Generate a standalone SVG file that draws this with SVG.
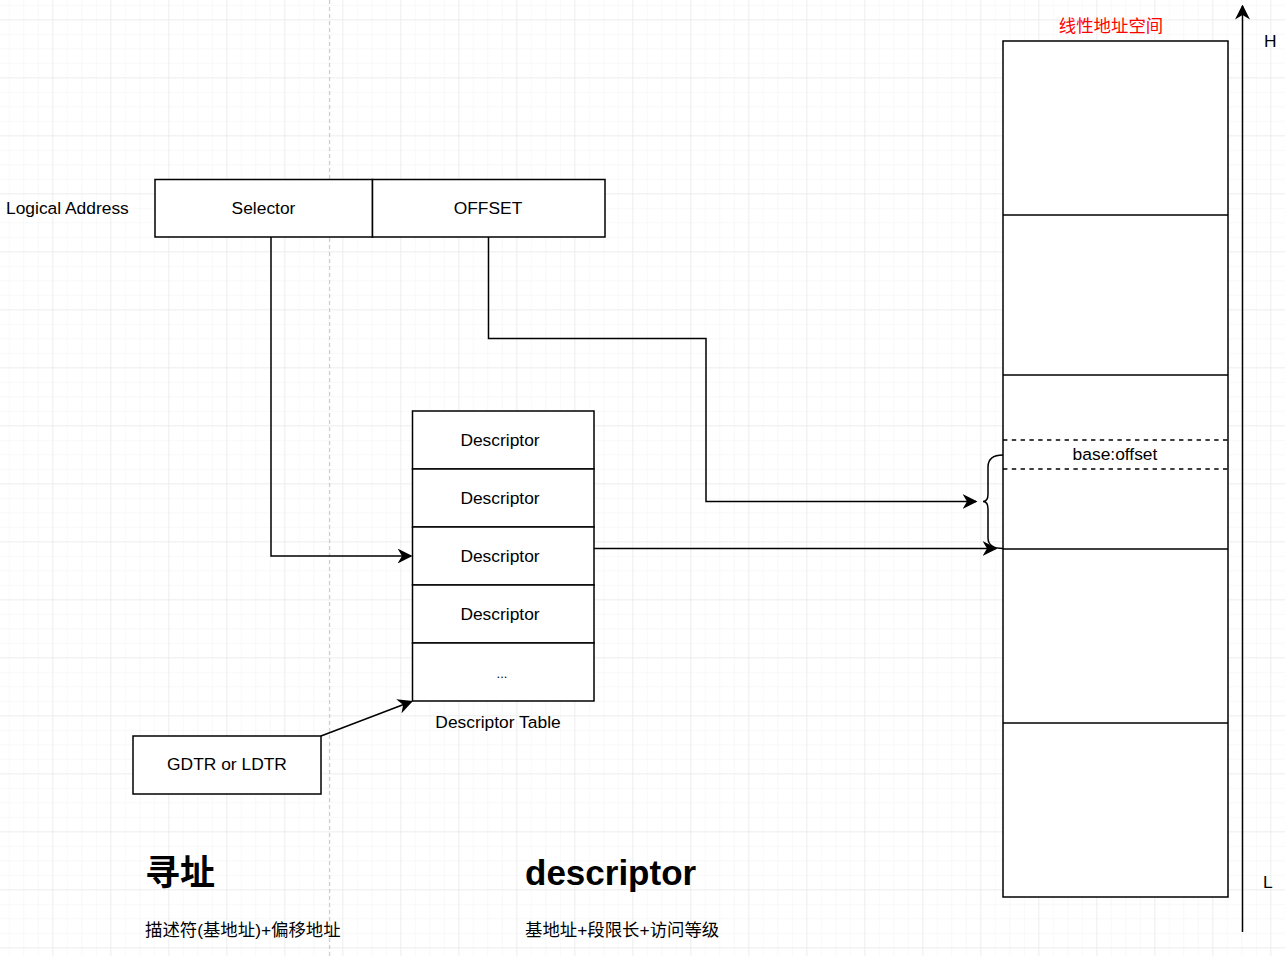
<svg xmlns="http://www.w3.org/2000/svg" width="1285" height="956" viewBox="0 0 1285 956">
  <defs>
    <pattern id="minor" patternUnits="userSpaceOnUse" x="52.3" y="19.3" width="14.5" height="14.5">
      <path d="M0,0 H14.5 M0,0 V14.5" fill="none" stroke="#f1f2f2" stroke-width="1"/>
    </pattern>
    <pattern id="major" patternUnits="userSpaceOnUse" x="52.3" y="19.3" width="58" height="58">
      <path d="M0,0 H58 M0,0 V58" fill="none" stroke="#e3e5e5" stroke-width="1"/>
    </pattern>
    <marker id="arrow" viewBox="0 0 10 10" refX="9" refY="5" markerWidth="15" markerHeight="15" markerUnits="userSpaceOnUse" orient="auto">
      <path d="M0,0 L10,5 L0,10 L3,5 Z" fill="#000"/>
    </marker>
  </defs>
  <style>
    .box { fill: #fff; stroke: #000; stroke-width: 1.5; }
    .lbl { font-family: "Liberation Sans", Arial, sans-serif; font-size: 17.4px; fill: #000; }
    .mid { text-anchor: middle; }
    .cjk { font-family: "Liberation Sans", "Noto Sans CJK SC", sans-serif; font-size: 17.4px; fill: #000; }
    .head { font-family: "Liberation Sans", "Noto Sans CJK SC", sans-serif; font-size: 35px; font-weight: bold; fill: #000; }
    .wire { fill: none; stroke: #000; stroke-width: 1.5; }
    .dash { fill: none; stroke: #000; stroke-width: 1.5; stroke-dasharray: 4.4 4.4; }
  </style>

  <!-- canvas grid -->
  <rect width="1285" height="956" fill="#fff"/>
  <rect width="1285" height="956" fill="url(#minor)"/>
  <rect width="1285" height="956" fill="url(#major)"/>
  <line x1="329.7" y1="0" x2="329.7" y2="956" stroke="#c4c4c4" stroke-width="1" stroke-dasharray="4 3"/>

  <!-- logical address -->
  <g id="logical-address-label">
    <text class="lbl" x="6" y="214">Logical Address</text>
  </g>
  <g id="selector">
    <rect class="box" x="155" y="179.5" width="217.5" height="57.5"/>
    <text class="lbl mid" x="263.5" y="214">Selector</text>
  </g>
  <g id="offset">
    <rect class="box" x="372.5" y="179.5" width="232.5" height="57.5"/>
    <text class="lbl mid" x="488" y="214">OFFSET</text>
  </g>

  <!-- descriptor table -->
  <g id="descriptor-table">
    <rect class="box" x="412.5" y="411" width="181.5" height="58"/>
    <text class="lbl mid" x="500" y="446">Descriptor</text>
    <rect class="box" x="412.5" y="469" width="181.5" height="58"/>
    <text class="lbl mid" x="500" y="504">Descriptor</text>
    <rect class="box" x="412.5" y="527" width="181.5" height="58"/>
    <text class="lbl mid" x="500" y="562">Descriptor</text>
    <rect class="box" x="412.5" y="585" width="181.5" height="58"/>
    <text class="lbl mid" x="500" y="620">Descriptor</text>
    <rect class="box" x="412.5" y="643" width="181.5" height="58"/>
    <text class="lbl mid" x="502" y="678" style="font-size:13px">...</text>
    <text class="lbl mid" x="498" y="728">Descriptor Table</text>
  </g>

  <g id="gdtr">
    <rect class="box" x="133" y="736" width="188" height="58"/>
    <text class="lbl mid" x="227" y="770">GDTR or LDTR</text>
  </g>

  <!-- linear address space -->
  <g id="linear-space">
    <text class="cjk mid" x="1111" y="32" style="fill:#ff0000">线性地址空间</text>
    <rect class="box" x="1003" y="41" width="225" height="856"/>
    <line class="wire" x1="1003" y1="215" x2="1228" y2="215"/>
    <line class="wire" x1="1003" y1="375" x2="1228" y2="375"/>
    <line class="wire" x1="1003" y1="549" x2="1228" y2="549"/>
    <line class="wire" x1="1003" y1="723" x2="1228" y2="723"/>
  </g>
  <g id="base-offset">
    <line class="dash" x1="1003" y1="440" x2="1228" y2="440"/>
    <line class="dash" x1="1003" y1="469" x2="1228" y2="469"/>
    <text class="lbl mid" x="1115" y="460">base:offset</text>
  </g>
  <g id="brace">
    <path class="wire" d="M1003,455 C994,455 988,458 988,467 L988,494 C988,499 987,501.5 983,501.5 C987,501.5 988,504 988,509 L988,538 C988,545 994,548.5 1003,548.5"/>
  </g>

  <!-- address axis -->
  <g id="axis">
    <line class="wire" x1="1242.5" y1="932" x2="1242.5" y2="6" marker-end="url(#arrow)"/>
    <text class="lbl" x="1264" y="47">H</text>
    <text class="lbl" x="1263" y="888">L</text>
  </g>

  <!-- notes -->
  <g id="note-addressing">
    <text class="head" x="145" y="885">寻址</text>
    <text class="cjk" x="145" y="936">描述符(基地址)+偏移地址</text>
  </g>
  <g id="note-descriptor">
    <text class="head" x="525" y="885">descriptor</text>
    <text class="cjk" x="525" y="936">基地址+段限长+访问等级</text>
  </g>

  <!-- connectors -->
  <g id="connectors">
    <path class="wire" d="M271,237 V556 H411" marker-end="url(#arrow)"/>
    <path class="wire" d="M488.5,237 V338.5 H706 V501.5 H976" marker-end="url(#arrow)"/>
    <path class="wire" d="M594,548.5 H996" marker-end="url(#arrow)"/>
    <path class="wire" d="M321,736 L411.5,701.5" marker-end="url(#arrow)"/>
  </g>
</svg>
